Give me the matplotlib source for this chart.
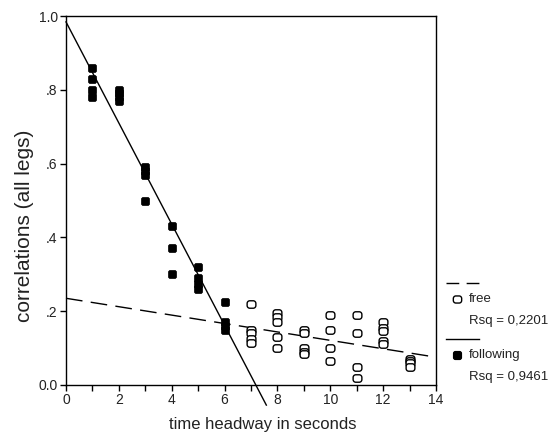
import numpy as np
import matplotlib
matplotlib.use("Agg")
import matplotlib.pyplot as plt
from matplotlib.path import Path
from matplotlib.lines import Line2D
from matplotlib.ticker import MultipleLocator, FixedLocator, FixedFormatter

plt.rcParams['font.family'] = ['Liberation Sans', 'DejaVu Sans']

# Correlation (all legs) against time headway, car-following condition
following_x = [1, 1, 1, 1, 2, 2, 2, 2, 3, 3, 3, 3, 4, 4, 4, 5, 5, 5, 5, 6, 6, 6, 6]
following_y = [0.86, 0.83, 0.80, 0.78, 0.80, 0.79, 0.78, 0.77,
               0.59, 0.58, 0.57, 0.50, 0.43, 0.37, 0.30,
               0.32, 0.29, 0.275, 0.26, 0.225, 0.17, 0.16, 0.15]

# Free-driving condition
free_x = [7, 7, 7, 7, 7, 8, 8, 8, 8, 8, 9, 9, 9, 9, 9, 10, 10, 10, 10,
          11, 11, 11, 11, 12, 12, 12, 12, 12, 13, 13, 13, 13]
free_y = [0.22, 0.15, 0.14, 0.125, 0.115,
          0.195, 0.185, 0.17, 0.13, 0.10,
          0.15, 0.14, 0.10, 0.09, 0.085,
          0.19, 0.15, 0.10, 0.065,
          0.19, 0.14, 0.05, 0.02,
          0.17, 0.155, 0.145, 0.12, 0.11,
          0.07, 0.065, 0.06, 0.05]

# Linear fits (intercept, slope) and the x range each one is drawn over
following_fit = (0.984, -0.137)
following_fit_range = (0.0, 7.58)
free_fit = (0.235, -0.0114)
free_fit_range = (0.0, 14.0)

following_label = "following"
free_label = "free"
following_rsq = "Rsq = 0,9461"
free_rsq = "Rsq = 0,2201"

x_ticks = [0, 2, 4, 6, 8, 10, 12, 14]
y_ticks = [0.0, 0.2, 0.4, 0.6, 0.8, 1.0]
y_tick_labels = ["0.0", ".2", ".4", ".6", ".8", "1.0"]


def rounded_rect(w, h, r):
    """Closed path of a rectangle with rounded corners, centred at 0."""
    k = 0.5523 * r
    x0, x1, y0, y1 = -w / 2, w / 2, -h / 2, h / 2
    verts = [
        (x0 + r, y0), (x1 - r, y0),
        (x1 - r + k, y0), (x1, y0 + r - k), (x1, y0 + r),
        (x1, y1 - r),
        (x1, y1 - r + k), (x1 - r + k, y1), (x1 - r, y1),
        (x0 + r, y1),
        (x0 + r - k, y1), (x0, y1 - r + k), (x0, y1 - r),
        (x0, y0 + r),
        (x0, y0 + r - k), (x0 + r - k, y0), (x0 + r, y0),
        (x0 + r, y0),
    ]
    codes = ([Path.MOVETO, Path.LINETO] + [Path.CURVE4] * 3 + [Path.LINETO]
             + [Path.CURVE4] * 3 + [Path.LINETO] + [Path.CURVE4] * 3
             + [Path.LINETO] + [Path.CURVE4] * 3 + [Path.CLOSEPOLY])
    return Path(verts, codes)


filled_marker = rounded_rect(2.0, 2.0, 0.45)
open_marker = rounded_rect(2.0, 1.7, 0.6)

W, H = 548, 437
fig = plt.figure(figsize=(W / 100, H / 100), dpi=100)
ax_left, ax_right, ax_top, ax_bottom = 66, 436, 16, 385
ax = fig.add_axes([ax_left / W, 1 - ax_bottom / H,
                   (ax_right - ax_left) / W, (ax_bottom - ax_top) / H])

ax.plot(following_x, following_y, linestyle='none', marker=filled_marker,
        markersize=5.8, markerfacecolor='black', markeredgecolor='black',
        markeredgewidth=0.5, zorder=3)
ax.plot(free_x, free_y, linestyle='none', marker=open_marker,
        markersize=6.3, markerfacecolor='white', markeredgecolor='black',
        markeredgewidth=1.0, zorder=3)

fx = np.array(following_fit_range)
ax.plot(fx, following_fit[0] + following_fit[1] * fx, color='black',
        linewidth=1.0, clip_on=False, zorder=2)
gx = np.array(free_fit_range)
ax.plot(gx, free_fit[0] + free_fit[1] * gx, color='black', linewidth=1.0,
        dashes=(12, 6), clip_on=False, zorder=2)

ax.set_xlim(0, 14)
ax.set_ylim(0, 1)
ax.xaxis.set_major_locator(FixedLocator(x_ticks))
ax.xaxis.set_minor_locator(MultipleLocator(1))
ax.yaxis.set_major_locator(FixedLocator(y_ticks))
ax.yaxis.set_major_formatter(FixedFormatter(y_tick_labels))
ax.tick_params(axis='both', which='both', direction='out', length=4,
               width=1.0, color='black', labelsize=10, labelcolor='#222222')
ax.tick_params(axis='x', pad=2)
ax.tick_params(axis='y', pad=2)
for s in ax.spines.values():
    s.set_linewidth(1.0)
    s.set_color('black')

ax.set_xlabel("time headway in seconds", fontsize=12, color='#222222',
              va='center')
ax.xaxis.set_label_coords((263 - ax_left) / (ax_right - ax_left),
                          (ax_bottom - 425) / (ax_bottom - ax_top))
ax.set_ylabel("correlations (all legs)", fontsize=15, color='#222222',
              va='center')
ax.yaxis.set_label_coords((25 - ax_left) / (ax_right - ax_left),
                          (ax_bottom - 226) / (ax_bottom - ax_top))


# Key placed to the right of the plot, positioned in pixel units
def px(x, y):
    return x / W, 1 - y / H


for (y_line, style, label, y_mark, marker, face, msize, rsq, y_rsq) in [
        (283, (0, (9.2, 5.3)), free_label, 299, open_marker, 'white', 6.0,
         free_rsq, 321),
        (339, '-', following_label, 355, filled_marker, 'black', 5.6,
         following_rsq, 377)]:
    (x0, y0), (x1, _) = px(446, y_line), px(479, y_line)
    fig.add_artist(Line2D([x0, x1], [y0, y0], color='black', linewidth=1.0,
                          linestyle=style, transform=fig.transFigure))
    mx, my = px(457, y_mark)
    fig.add_artist(Line2D([mx], [my], marker=marker, markersize=msize,
                          markerfacecolor=face, markeredgecolor='black',
                          markeredgewidth=1.0, linestyle='none',
                          transform=fig.transFigure))
    tx, ty = px(469, y_mark)
    fig.text(tx, ty, label, fontsize=9.5, color='#222222', va='center',
             ha='left')
    rx, ry = px(469, y_rsq)
    fig.text(rx, ry, rsq, fontsize=9.5, color='#222222', va='center',
             ha='left')

fig.savefig("out.png", dpi=100)
